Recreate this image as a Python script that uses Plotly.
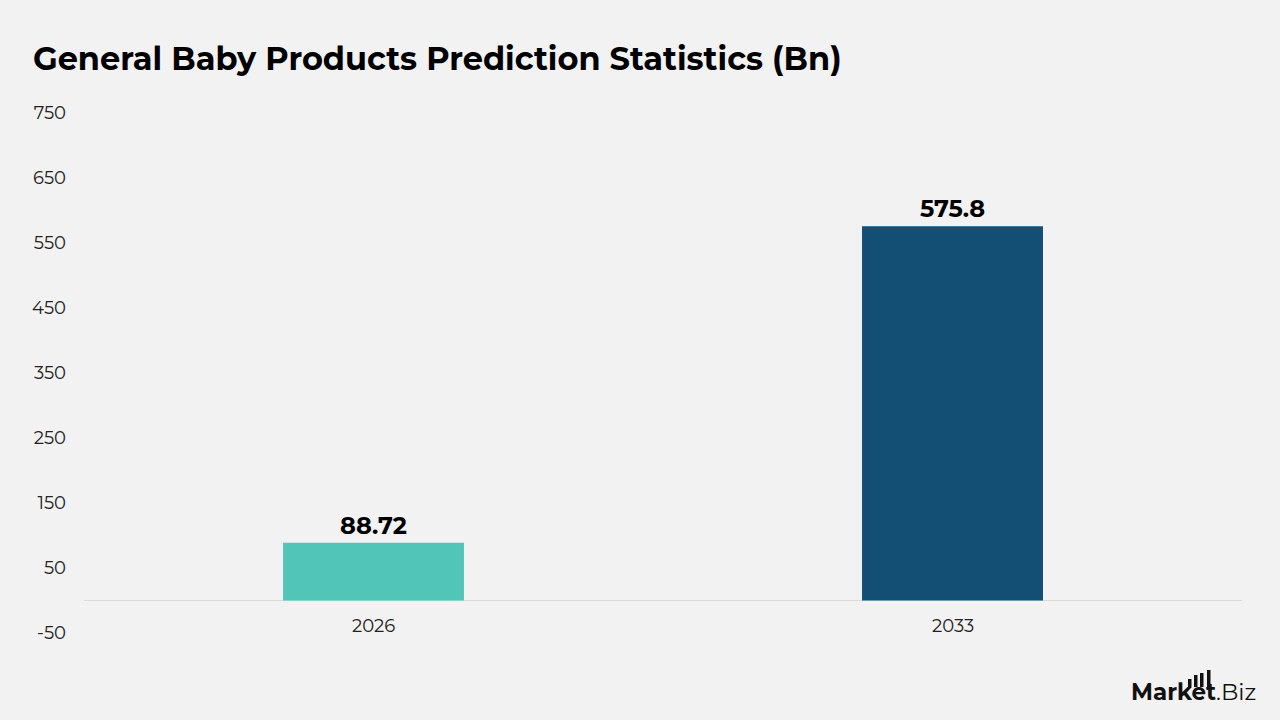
import plotly.graph_objects as go

years = ["2026", "2033"]
values = [88.72, 575.8]
labels = ["88.72", "575.8"]
bar_colors = ["#52c5b9", "#134f74"]
tick_vals = [-50, 50, 150, 250, 350, 450, 550, 650, 750]
tick_text = ["-50", "50", "150", "250", "350", "450", "550", "650", "750"]

FONT = "Montserrat, Inter, 'Open Sans', sans-serif"
PW, PH = 1280 - 84 - 38, 720 - 113 - 87

fig = go.Figure(
    go.Bar(
        x=years,
        y=values,
        marker=dict(color=bar_colors, line=dict(width=0)),
        width=0.3125,
        text=labels,
        textposition="outside",
        textfont=dict(family=FONT, size=24, color="#000000", weight="bold"),
        cliponaxis=False,
        hoverinfo="skip",
    )
)

fig.update_layout(
    width=1280,
    height=720,
    paper_bgcolor="#f2f2f2",
    plot_bgcolor="#f2f2f2",
    margin=dict(l=84, r=38, t=113, b=87),
    showlegend=False,
    title=dict(
        text="<b>General Baby Products Prediction Statistics (Bn)</b>",
        x=33 / 1280,
        xanchor="left",
        y=1 - 59 / 720,
        yanchor="middle",
        font=dict(family=FONT, size=32, color="#000000"),
    ),
    font=dict(family=FONT, color="#222222"),
    xaxis=dict(
        type="category",
        categoryorder="array",
        categoryarray=years,
        range=[-0.5, len(years) - 0.5],
        showgrid=False,
        showline=False,
        zeroline=False,
        ticks="",
        showticklabels=False,
    ),
    yaxis=dict(
        range=[-50, 750],
        tickvals=tick_vals,
        ticktext=tick_text,
        showgrid=False,
        zeroline=True,
        zerolinecolor="#d9d9d9",
        zerolinewidth=1,
        showline=False,
        ticks="",
        ticklabelstandoff=17,
        tickfont=dict(size=18, color="#222222"),
    ),
    bargap=0.6875,
)

# Category labels sit just under the zero line
for i, yr in enumerate(years):
    fig.add_annotation(
        text=yr, x=i, xref="x", yref="paper",
        y=(633 - 626) / PH, yanchor="middle",
        showarrow=False,
        font=dict(family=FONT, size=18, color="#222222"),
    )

# Brand mark (bottom-right)
fig.add_annotation(
    text="<b>Market</b>.Biz",
    xref="paper", yref="paper",
    x=(1258 - 84) / PW,
    y=-(692 - 633) / PH,
    xanchor="right", yanchor="middle",
    showarrow=False,
    font=dict(family=FONT, size=23, color="#111111"),
)
for i, top in enumerate([679, 675, 673]):
    x0 = 1188 + i * 6
    fig.add_shape(
        type="rect",
        xref="paper", yref="paper",
        x0=(x0 - 84) / PW, x1=(x0 + 3.5 - 84) / PW,
        y0=(633 - 687) / PH, y1=(633 - top) / PH,
        fillcolor="#111111", line=dict(width=0),
    )
fig.add_shape(
    type="rect",
    xref="paper", yref="paper",
    x0=(1207 - 84) / PW, x1=(1210.5 - 84) / PW,
    y0=(633 - 690) / PH, y1=(633 - 670) / PH,
    fillcolor="#111111", line=dict(width=0),
)

fig.write_html("out.html")
